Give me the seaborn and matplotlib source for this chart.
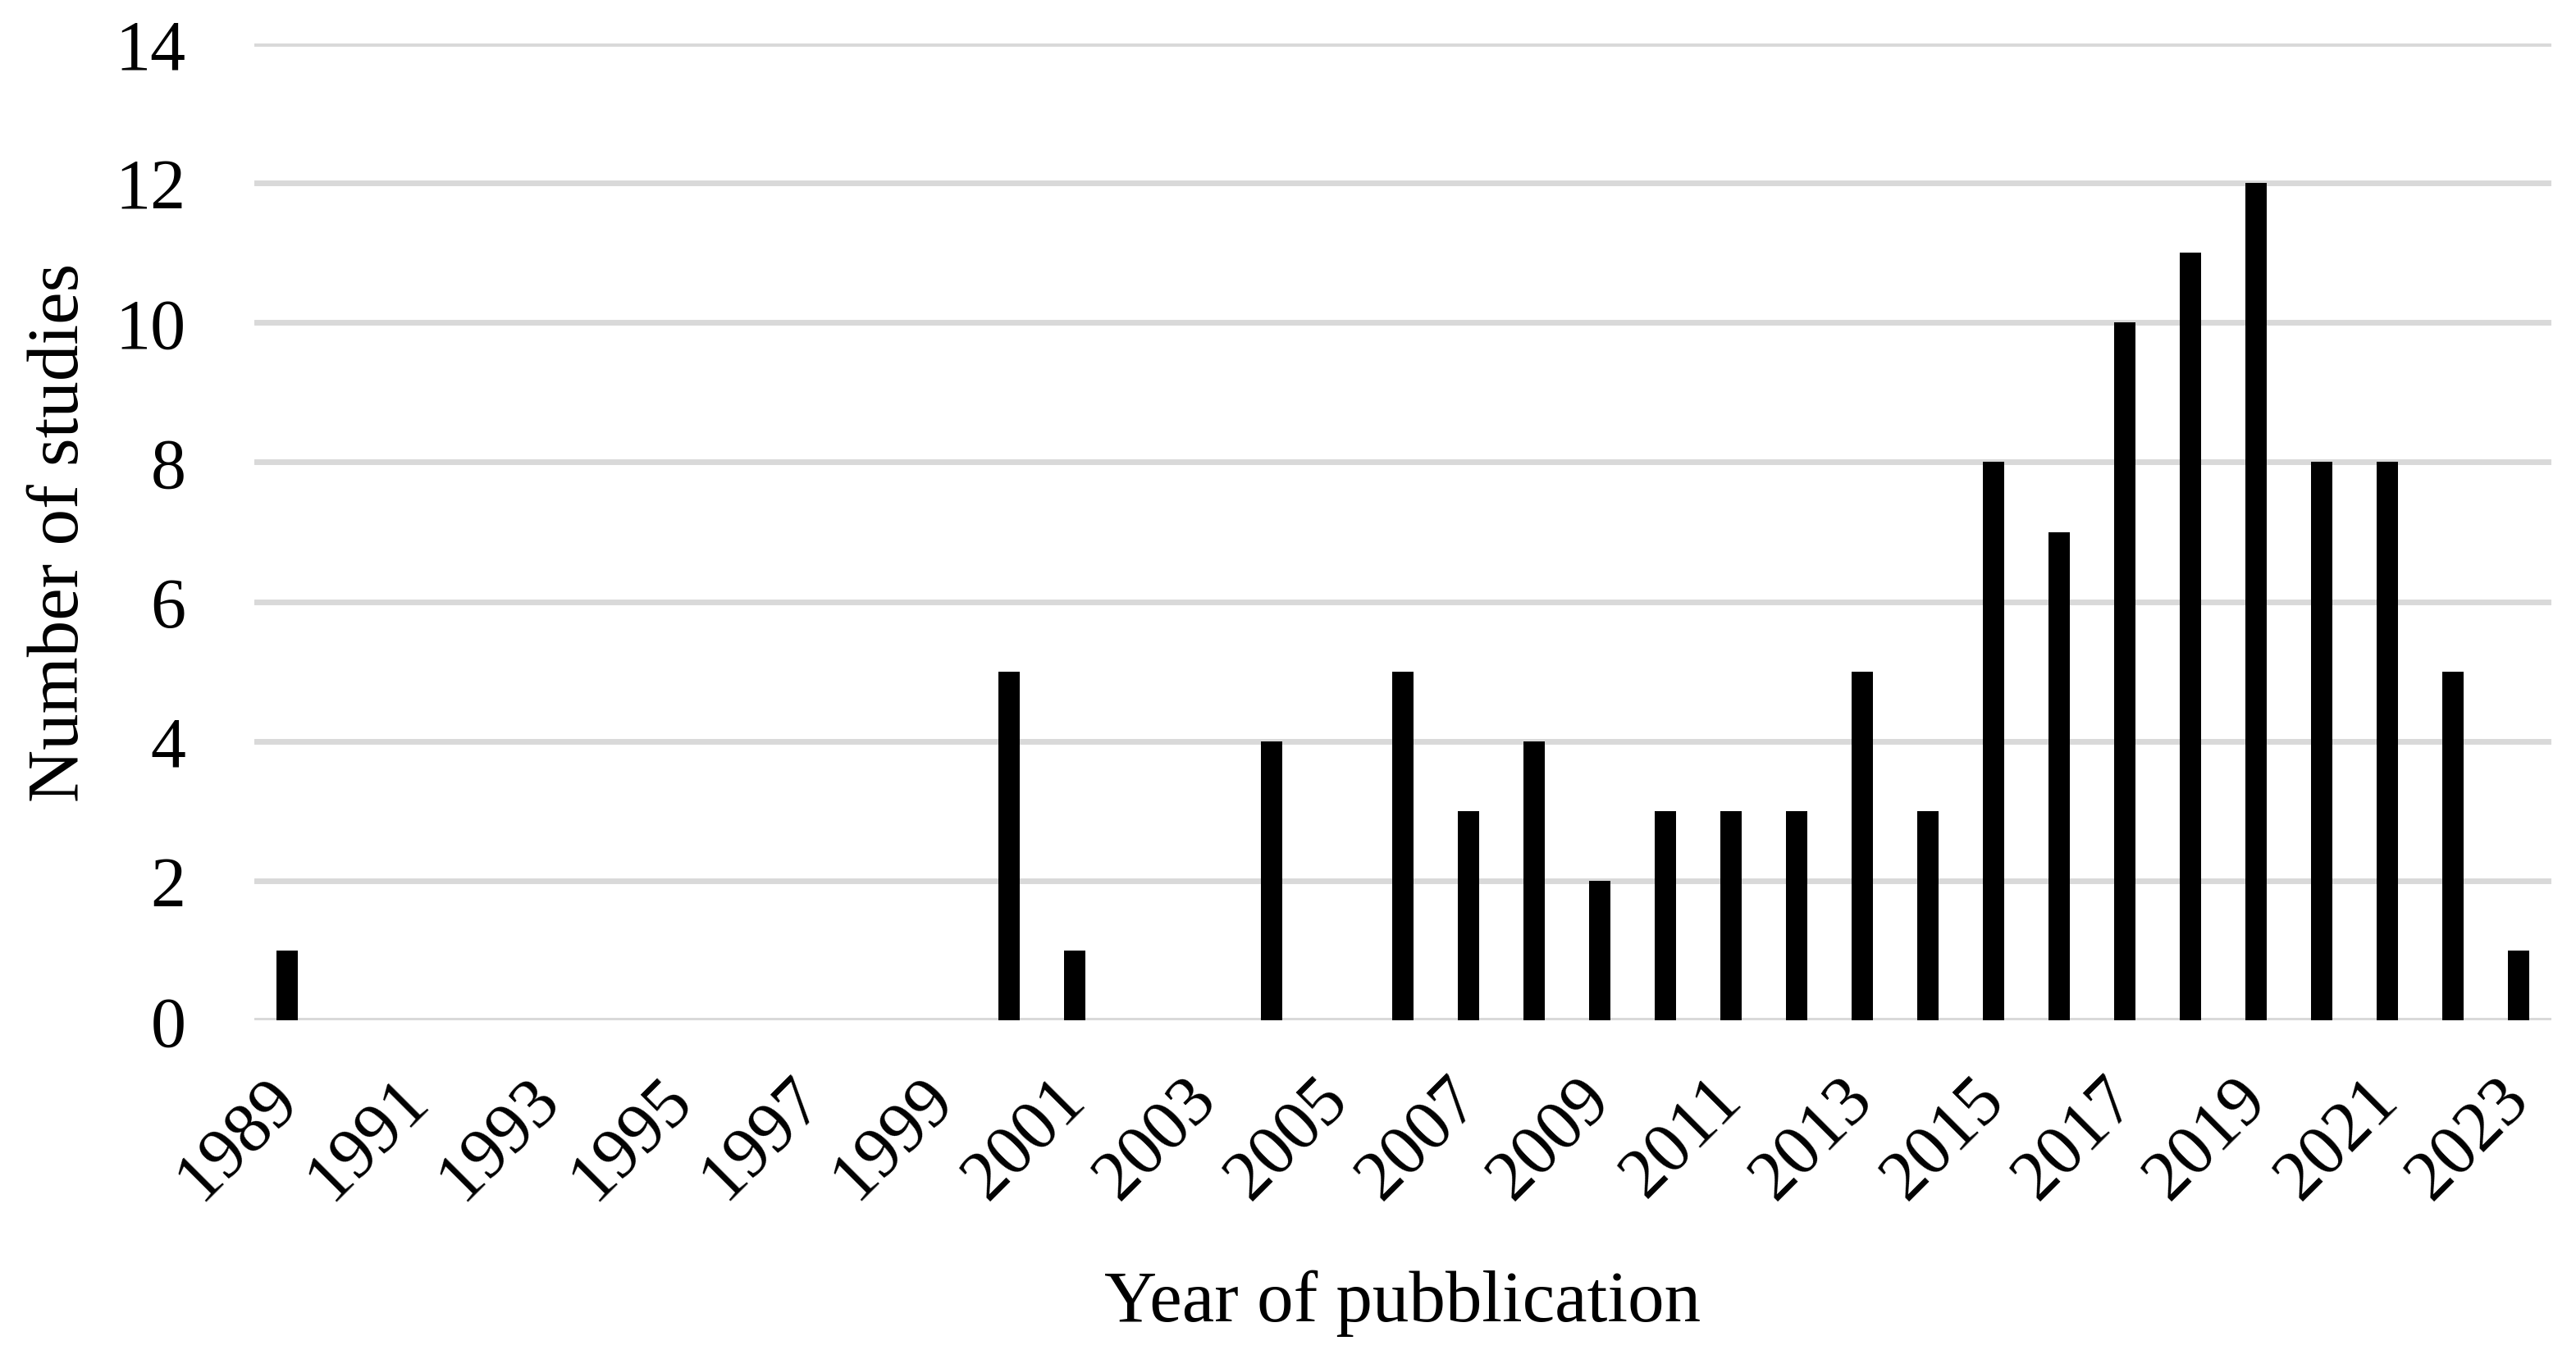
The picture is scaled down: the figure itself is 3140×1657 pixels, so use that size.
import pandas as pd
import numpy as np
import matplotlib
matplotlib.use("Agg")
import matplotlib.pyplot as plt
import seaborn as sns

# data
years = list(range(1989, 2024))
counts = [1, 0, 0, 0, 0, 0, 0, 0, 0, 0, 0,   # 1989-1999
          5, 1, 0, 0, 4, 0, 5, 3, 4, 2,      # 2000-2009
          3, 3, 3, 5, 3, 8, 7, 10, 11, 12,   # 2010-2019
          8, 8, 5, 1]                        # 2020-2023
y_ticks = [0, 2, 4, 6, 8, 10, 12, 14]

sns.set_theme(style="white")
plt.rcParams['font.family'] = ['Liberation Serif', 'DejaVu Serif']
plt.rcParams['text.color'] = 'black'
plt.rcParams['axes.labelcolor'] = 'black'
plt.rcParams['xtick.color'] = 'black'
plt.rcParams['ytick.color'] = 'black'

df = pd.DataFrame({"year": [str(y) for y in years], "n": counts})

fig = plt.figure(figsize=(15.7, 8.29), dpi=200)
ax = fig.add_axes([310 / 3140, 1 - 1245 / 1658, 2800 / 3140, 1191 / 1658])

ax.yaxis.grid(True, color='#d9d9d9', linewidth=2.5, zorder=0)
ax.set_axisbelow(True)
sns.barplot(data=df, x="year", y="n", color='black', width=0.33,
            saturation=1, linewidth=0, ax=ax, zorder=3)

ax.set_ylim(0, 14)
ax.set_xlim(-0.5, len(years) - 0.5)
ax.set_yticks(y_ticks)
ax.set_yticklabels([str(t) for t in y_ticks], fontsize=31)
ax.tick_params(axis='y', length=0, pad=30)

pos = np.arange(len(years))[::2]
ax.set_xticks(pos)
ax.set_xticklabels([str(years[i]) for i in pos], fontsize=31, rotation=45,
                   ha='right', va='center', rotation_mode='anchor')
ax.tick_params(axis='x', length=0, pad=30)

for s in ['top', 'right', 'left', 'bottom']:
    ax.spines[s].set_visible(False)

ax.set_xlabel("Year of pubblication", fontsize=32)
ax.set_ylabel("Number of studies", fontsize=32)
ax.xaxis.set_label_coords(0.5, -0.255)
ax.yaxis.set_label_coords(-0.07, 0.5)

plt.savefig('out.png', dpi=200)
